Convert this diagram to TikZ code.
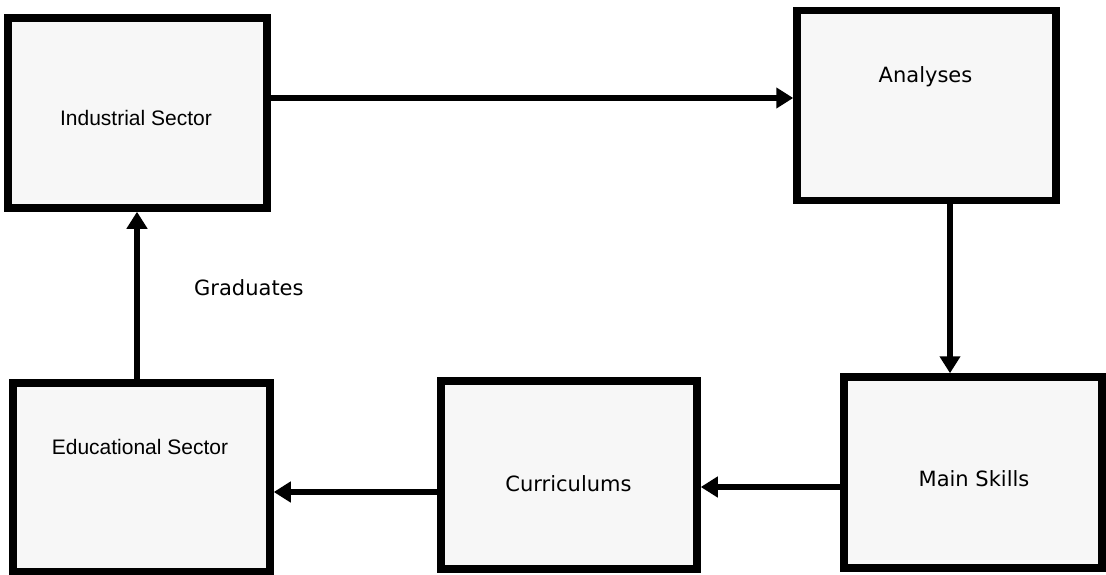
\documentclass[tikz,border=0pt]{standalone}
\usepackage{fontspec}
\setmainfont{DejaVu Sans}
\newfontfamily\arialfont{Liberation Sans}
\usetikzlibrary{arrows.meta}
\tikzset{
  blockbox/.style={draw=black, line width=7.5pt, fill=black!3, rectangle, inner sep=0pt},
  lbl/.style={inner sep=0pt, font=\fontsize{21pt}{24pt}\selectfont},
  albl/.style={inner sep=0pt, font=\arialfont\fontsize{21pt}{24pt}\selectfont},
  arr/.style={line width=6pt, -{Triangle[length=17pt,width=20pt]}}
}
\begin{document}
\begin{tikzpicture}[x=1pt,y=-1pt]
\useasboundingbox (0,0) rectangle (1106,575);
% boxes
\node[blockbox, minimum width=259pt, minimum height=190pt] (ind) at (137.5,113) {};
\node[blockbox, minimum width=259pt, minimum height=190pt] (ana) at (926.5,105.5) {};
\node[blockbox, minimum width=258pt, minimum height=191pt] (ms) at (973,472.5) {};
\node[blockbox, minimum width=256pt, minimum height=188pt] (cur) at (569,475) {};
\node[blockbox, minimum width=257pt, minimum height=189pt] (edu) at (141.5,477.5) {};
% labels
\node[albl] (tind) at (136,118) {Industrial Sector};
\node[lbl] (tana) at (925.5,77) {Analyses};
\node[lbl] (tms) at (974,479) {Main Skills};
\node[lbl] (tcur) at (568.5,484) {Curriculums};
\node[albl] (tedu) at (140,447) {Educational Sector};
\node[lbl, anchor=west] (tgrad) at (194,288) {Graduates};
% connector guides
\coordinate (y1) at (0,98);
\coordinate (x2) at (950,0);
\coordinate (y3) at (0,487);
\coordinate (y4) at (0,492);
\coordinate (x5) at (137,0);
% connectors
\draw[arr] (ind.east |- y1) -- (ana.west |- y1);
\draw[arr] (ana.south -| x2) -- (ms.north -| x2);
\draw[arr] (ms.west |- y3) -- (cur.east |- y3);
\draw[arr] (cur.west |- y4) -- (edu.east |- y4);
\draw[arr] (edu.north -| x5) -- (ind.south -| x5);
\end{tikzpicture}
\end{document}
